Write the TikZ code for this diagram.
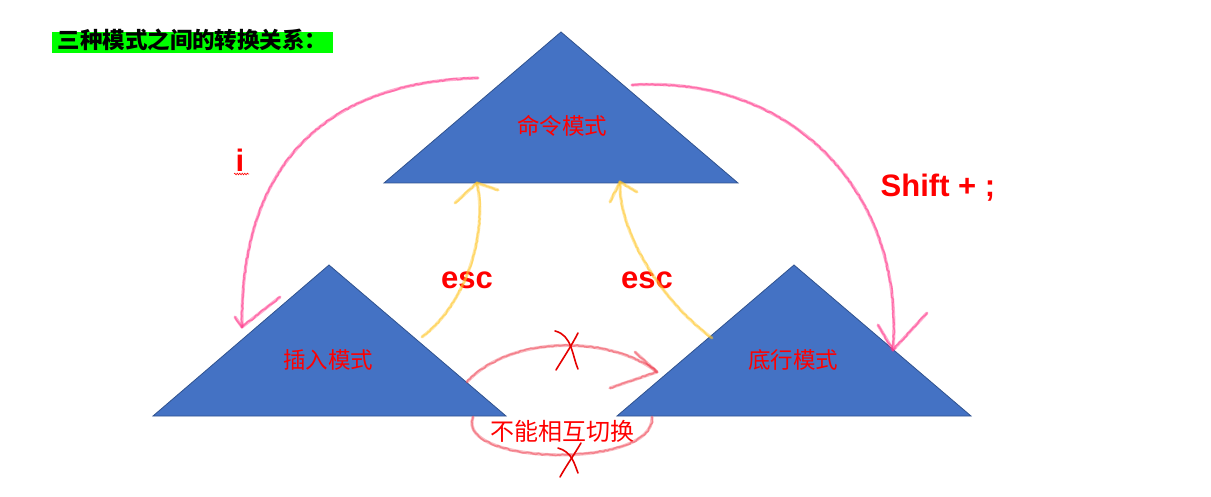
\documentclass[tikz,border=0pt]{standalone}
\usepackage{fontspec}
\setmainfont{Liberation Sans}
\newfontfamily\cjk{Noto Sans CJK SC}
\usepackage{xcolor}
\usepackage{tikz}
\usetikzlibrary{arrows.meta}
\usetikzlibrary{decorations.pathmorphing}

\definecolor{modeblue}{HTML}{4472C4}
\definecolor{modeedge}{HTML}{2F528F}
\definecolor{crayonpink}{HTML}{FF3388}
\definecolor{crayonyellow}{HTML}{FFC629}
\definecolor{crayonred}{HTML}{EE4455}

\begin{document}
\begin{tikzpicture}[x=1pt, y=-1pt,
mode/.style={fill=modeblue, draw=modeedge, line width=0.8pt},
modelabel/.style={text=red, font=\cjk\fontsize{22.5}{22.5}\selectfont},
keylabel/.style={text=red, font=\bfseries\fontsize{31}{31}\selectfont},
crayon/.style={line width=3.2pt, draw opacity=0.4, line cap=round, line join=round,
  postaction={draw, draw opacity=0.5, line width=1.6pt, decorate, decoration={random steps, segment length=2.5pt, amplitude=0.8pt}}},
pinkline/.style={crayon, draw=crayonpink},
yellowline/.style={crayon, draw=crayonyellow},
redline/.style={crayon, draw=crayonred, draw opacity=0.35},
cross/.style={draw=red!90!black, line width=1.6pt, line cap=round},
]
\useasboundingbox (0,0) rectangle (1211,497);
% three modes
\draw[mode] (561,32) -- (738,183) -- (384,183) -- cycle;
\draw[mode] (329,265) -- (506,416) -- (153,416) -- cycle;
\draw[mode] (794,265) -- (971,416) -- (617,416) -- cycle;
%Nodes
\node[fill=green, inner xsep=0pt, inner ysep=1pt, minimum width=281pt, text height=15.5pt, text depth=3.5pt,
  font=\cjk\bfseries\fontsize{22.5}{22.5}\selectfont] (title) at (192.5,42.5) {三种模式之间的转换关系：};
\node[modelabel] (cmd) at (562,126) {命令模式};
\node[modelabel] (ins) at (328,360) {插入模式};
\node[modelabel] (bot) at (793,360) {底行模式};
\node[keylabel] (ikey) at (240,160) {i};
\node[keylabel] (shiftkey) at (938,188) {Shift + ;};
\node[keylabel] (esca) at (467,280) {esc};
\node[keylabel] (escb) at (647,280) {esc};
\node[text=red, font=\cjk\fontsize{24}{24}\selectfont] (nope) at (562,431) {不能相互切换};
% ends of the crayon strokes
\coordinate (iStart) at (478,78);
\coordinate (iEnd) at (242,327);
\coordinate (sStart) at (632,85);
\coordinate (sEnd) at (893,350);
\coordinate (eaStart) at (422,337);
\coordinate (eaEnd) at (477,183);
\coordinate (ebStart) at (712,338);
\coordinate (ebEnd) at (620,182);
\coordinate (upStart) at (467,382);
\coordinate (upEnd) at (657,372);
\coordinate (lowStart) at (652,417);
\coordinate (lowEnd) at (473,417);
%Lines
\draw[pinkline] (iStart) .. controls (320,82) and (240,170) .. (iEnd);
\draw[pinkline] (235,317) -- (iEnd) -- (280,297);
\draw[pinkline] (sStart) .. controls (790,75) and (905,190) .. (sEnd);
\draw[pinkline] (878,325) -- (sEnd) -- (927,313);
\draw[yellowline] (eaStart) .. controls (465,305) and (488,235) .. (eaEnd);
\draw[yellowline] (455,203) -- (eaEnd) -- (498,190);
\draw[yellowline] (ebStart) .. controls (660,300) and (618,230) .. (ebEnd);
\draw[yellowline] (610,202) -- (ebEnd) -- (637,192);
\draw[redline] (upStart) .. controls (510,335) and (610,335) .. (upEnd);
\draw[redline] (635,352) -- (upEnd) -- (610,388);
\draw[redline] (lowStart) .. controls (655,470) and (455,465) .. (lowEnd);
% crosses
\draw[cross] (555,331) .. controls (572,335) and (572,355) .. (578,369);
\draw[cross] (578,333) .. controls (572,345) and (562,360) .. (556,370);
\draw[cross] (558,448) .. controls (572,452) and (574,463) .. (578,473);
\draw[cross] (581,443) .. controls (574,455) and (566,466) .. (560,477);
% squiggle under i
\draw[red, line width=0.6pt, decorate, decoration={snake, amplitude=0.8pt, segment length=2.5pt}] (234,174) -- (249,174);
\end{tikzpicture}
\end{document}
